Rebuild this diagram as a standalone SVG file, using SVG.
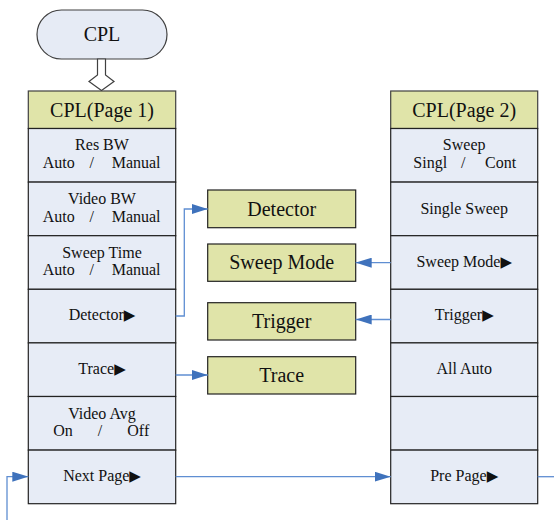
<svg xmlns="http://www.w3.org/2000/svg" width="554" height="520" viewBox="0 0 554 520">
<defs>
<style>
text{font-family:"Liberation Serif","DejaVu Serif","Times New Roman",serif}
.big{font-size:20px;fill:#111;text-anchor:middle}
.row{font-size:16px;fill:#111}
.mid{text-anchor:middle}
.hdr{fill:#e0e4a9;stroke:#404040;stroke-width:1.2}
.cell{fill:#e7ecf6;stroke:#222;stroke-width:1.2}
.box{fill:#e0e4a9;stroke:#222;stroke-width:1.2}
.con{fill:none;stroke:#5f8ed2;stroke-width:1.3}
.arr{font-family:"DejaVu Sans",sans-serif;font-size:15px}
</style>
<marker id="ah" markerUnits="userSpaceOnUse" markerWidth="16" markerHeight="10" refX="16" refY="5" orient="auto">
<path d="M0,0 L16,5 L0,10 z" fill="#3f72bc"/>
</marker>
</defs>
<rect width="554" height="520" fill="#ffffff"/>

<g id="cpl">
<rect x="37" y="10" width="130" height="49" rx="24.5" ry="24.5" fill="#e6ebf5" stroke="#404040" stroke-width="1.2"/>
<text class="big" x="102" y="41">CPL</text>
</g>
<g id="cpl-arrow">
<polygon points="97.5,59 105.5,59 105.5,75 114,81.5 101.5,90.5 89,81.5 97.5,75" fill="#ffffff" stroke="#404040" stroke-width="1.2"/>
</g>

<g id="page1">
<rect class="hdr" x="28.3" y="91" width="147.4" height="37.5"/>
<text class="big" x="102" y="116.5">CPL(Page 1)</text>
<g id="p1-resbw">
<rect class="cell" x="28.3" y="128.5" width="147.4" height="53.6"/>
<text class="row mid" x="102" y="150">Res BW</text>
<text class="row" y="168"><tspan x="42.7">Auto</tspan><tspan x="89.5">/</tspan><tspan x="111.7">Manual</tspan></text>
</g>
<g id="p1-videobw">
<rect class="cell" x="28.3" y="182.1" width="147.4" height="53.6"/>
<text class="row mid" x="102" y="204">Video BW</text>
<text class="row" y="221.7"><tspan x="42.7">Auto</tspan><tspan x="89.5">/</tspan><tspan x="111.7">Manual</tspan></text>
</g>
<g id="p1-sweeptime">
<rect class="cell" x="28.3" y="235.7" width="147.4" height="53.6"/>
<text class="row mid" x="102" y="257.5">Sweep Time</text>
<text class="row" y="275.3"><tspan x="42.7">Auto</tspan><tspan x="89.5">/</tspan><tspan x="111.7">Manual</tspan></text>
</g>
<g id="p1-detector">
<rect class="cell" x="28.3" y="289.3" width="147.4" height="53.6"/>
<text class="row mid" x="102" y="320">Detector<tspan class="arr">▶</tspan></text>
</g>
<g id="p1-trace">
<rect class="cell" x="28.3" y="342.9" width="147.4" height="53.6"/>
<text class="row mid" x="102" y="373.5">Trace<tspan class="arr">▶</tspan></text>
</g>
<g id="p1-videoavg">
<rect class="cell" x="28.3" y="396.5" width="147.4" height="53.6"/>
<text class="row mid" x="102" y="418.5">Video Avg</text>
<text class="row" y="436.3"><tspan x="53.3">On</tspan><tspan x="97.8">/</tspan><tspan x="127.3">Off</tspan></text>
</g>
<g id="p1-nextpage">
<rect class="cell" x="28.3" y="450.1" width="147.4" height="53.6"/>
<text class="row mid" x="102" y="481">Next Page<tspan class="arr">▶</tspan></text>
</g>
</g>

<g id="page2">
<rect class="hdr" x="390.7" y="91" width="147" height="37.5"/>
<text class="big" x="464.2" y="116.5">CPL(Page 2)</text>
<g id="p2-sweep">
<rect class="cell" x="390.7" y="128.5" width="147" height="53.6"/>
<text class="row mid" x="464.2" y="150">Sweep</text>
<text class="row" y="168"><tspan x="413.3">Singl</tspan><tspan x="461">/</tspan><tspan x="485">Cont</tspan></text>
</g>
<g id="p2-single">
<rect class="cell" x="390.7" y="182.1" width="147" height="53.6"/>
<text class="row mid" x="464.2" y="213.5">Single Sweep</text>
</g>
<g id="p2-sweepmode">
<rect class="cell" x="390.7" y="235.7" width="147" height="53.6"/>
<text class="row mid" x="464.2" y="267">Sweep Mode<tspan class="arr">▶</tspan></text>
</g>
<g id="p2-trigger">
<rect class="cell" x="390.7" y="289.3" width="147" height="53.6"/>
<text class="row mid" x="464.2" y="320">Trigger<tspan class="arr">▶</tspan></text>
</g>
<g id="p2-allauto">
<rect class="cell" x="390.7" y="342.9" width="147" height="53.6"/>
<text class="row mid" x="464.2" y="373.5">All Auto</text>
</g>
<g id="p2-empty">
<rect class="cell" x="390.7" y="396.5" width="147" height="53.6"/>
</g>
<g id="p2-prepage">
<rect class="cell" x="390.7" y="450.1" width="147" height="53.6"/>
<text class="row mid" x="464.2" y="481">Pre Page<tspan class="arr">▶</tspan></text>
</g>
</g>

<g id="detector">
<rect class="box" x="207.7" y="190" width="148" height="37.7"/>
<text class="big" x="281.7" y="215.5">Detector</text>
</g>
<g id="sweepmode">
<rect class="box" x="207.7" y="244" width="148" height="37.3"/>
<text class="big" x="281.7" y="269">Sweep Mode</text>
</g>
<g id="trigger">
<rect class="box" x="207.7" y="302.7" width="148" height="37.3"/>
<text class="big" x="281.7" y="328">Trigger</text>
</g>
<g id="trace">
<rect class="box" x="207.7" y="356.7" width="148" height="37.3"/>
<text class="big" x="281.7" y="382">Trace</text>
</g>

<g id="connectors">
<path class="con" d="M175.7,316 H184.3 V209 H207.7" marker-end="url(#ah)"/>
<path class="con" d="M175.7,375 H207.7" marker-end="url(#ah)"/>
<path class="con" d="M390.7,262.7 H355.7" marker-end="url(#ah)"/>
<path class="con" d="M390.7,319.5 H355.7" marker-end="url(#ah)"/>
<path class="con" d="M175.7,476.7 H390.7" marker-end="url(#ah)"/>
<path class="con" d="M7,520 V476.7 H28.3" marker-end="url(#ah)"/>
<path class="con" d="M537.7,476.7 H554"/>
</g>
</svg>
